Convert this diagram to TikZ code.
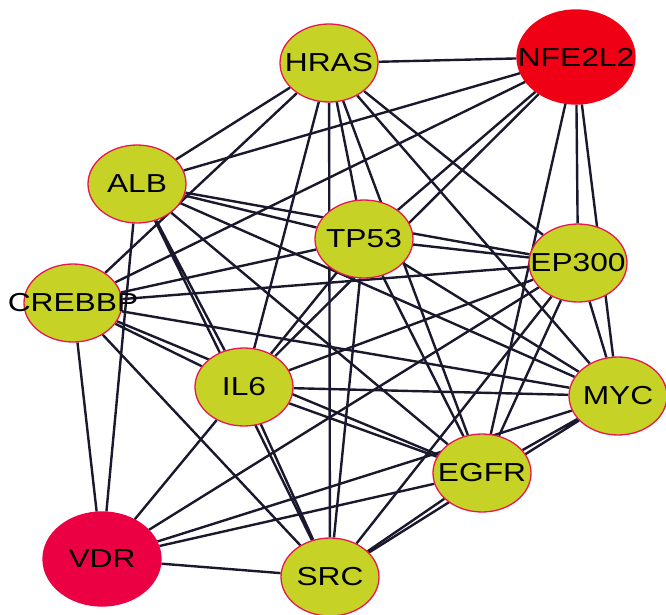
\documentclass[tikz,border=0pt]{standalone}
\usepackage{fontspec}
\usepackage{tikz}
\usetikzlibrary{shapes.geometric,backgrounds}

\newfontfamily\genefont[FakeStretch=1.22]{Liberation Sans}

\definecolor{genefill}{RGB}{198,210,38}
\definecolor{generim}{RGB}{232,23,79}
\definecolor{nrfred}{RGB}{240,0,20}
\definecolor{vdrred}{RGB}{236,0,68}
\definecolor{linkcol}{RGB}{26,24,44}

\begin{document}
\begin{tikzpicture}[x=1pt,y=-1pt,
    gene/.style={ellipse, draw=generim, line width=1.3pt, fill=genefill,
      minimum width=98pt, minimum height=78pt, inner sep=0pt},
    hub/.style={gene, draw=#1, fill=#1, minimum width=118pt, minimum height=94pt},
    every label/.style={font=\genefont\fontsize{26}{30}\selectfont, text=black, inner sep=0pt},
    link/.style={draw=linkcol, line width=2.4pt}]

    % Page size
    \useasboundingbox (0,0) rectangle (666,615);

    % Draw the genes
    \node[gene, label=center:HRAS] (hras) at (329,63) {};
    \node[hub=nrfred, label=center:NFE2L2] (nfe) at (576,57) {};
    \node[gene, label=center:ALB] (alb) at (137,184) {};
    \node[gene, label=center:TP53] (tp) at (364,239) {};
    \node[gene, label=center:EP300] (ep) at (578,263) {};
    \node[gene, label=center:CREBBP] (creb) at (73,303) {};
    \node[gene, label=center:IL6] (il) at (244,387) {};
    \node[gene, label=center:MYC] (myc) at (618,396) {};
    \node[gene, label=center:EGFR] (egfr) at (482,473) {};
    \node[hub=vdrred, label=center:VDR] (vdr) at (102,559) {};
    \node[gene, label=center:SRC] (src) at (330,577) {};

    % Interactions, behind the genes
    \begin{scope}[on background layer]
    \draw[link] (hras) -- (nfe) (hras) -- (alb) (hras) -- (creb) (hras) -- (il) (hras) -- (src);
    \draw[link] (hras) -- (tp) (hras) -- (egfr) (hras) -- (ep) (hras) -- (myc);
    \draw[link] (nfe) -- (alb) (nfe) -- (creb) (nfe) -- (tp) (nfe) -- (il);
    \draw[link] (nfe) -- (egfr) (nfe) -- (ep) (nfe) -- (myc);
    \draw[link] (alb) -- (tp) (alb) -- (ep) (alb) -- (il) (alb) -- (src);
    \draw[link] (alb) -- (vdr) (alb) -- (egfr) (alb) -- (myc);
    \draw[link] (tp) -- (creb) (tp) -- (il) (tp) -- (src) (tp) -- (ep) (tp) -- (egfr) (tp) -- (myc);
    \draw[link] (ep) -- (creb) (ep) -- (il) (ep) -- (vdr) (ep) -- (src) (ep) -- (egfr) (ep) -- (myc);
    \draw[link] (creb) -- (il) (creb) -- (egfr) (creb) -- (myc) (creb) -- (vdr) (creb) -- (src);
    \draw[link] (il) -- (myc) (il) -- (egfr) (il) -- (vdr) (il) -- (src);
    \draw[link] (myc) -- (egfr) (myc) -- (src) (myc) -- (vdr);
    \draw[link] (egfr) -- (src) (egfr) -- (vdr);
    \draw[link] (vdr) -- (src);
    \end{scope}
\end{tikzpicture}
\end{document}
